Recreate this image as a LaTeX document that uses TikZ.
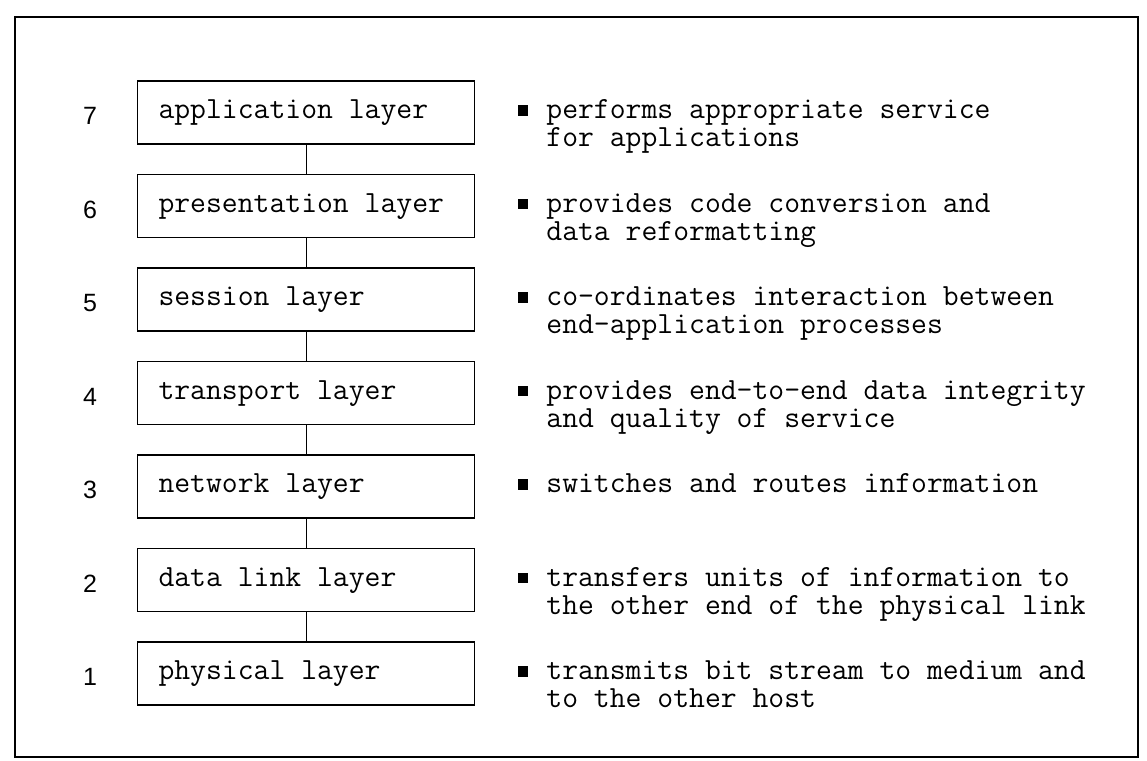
\documentclass[tikz,border=0pt]{standalone}
\usepackage{fontspec}
\newfontfamily\numfont{Liberation Sans}
\usetikzlibrary{positioning}

\newcommand{\typed}{\ttfamily\fontsize{15.4}{14}\selectfont}

\begin{document}
\begin{tikzpicture}[x=0.5pt,y=-0.5pt]
		\tikzset{layer/.style = {draw, line width=0.8pt, minimum width=168.5pt, minimum height=31.5pt,
				text width=147.5pt, align=flush left, inner xsep=10.5pt, text depth=3pt, font=\typed}}
		\tikzset{num/.style = {font=\numfont\fontsize{12.5}{13}\selectfont}}
		\tikzset{dot/.style = {fill=black, inner sep=0pt, minimum width=4.8pt, minimum height=5.2pt}}
		\tikzset{desc/.style = {anchor=base west, inner sep=0pt, font=\typed}}
		\tikzset{link/.style = {line width=0.5pt}}

		\useasboundingbox (0,0) rectangle (1147,761);
		\draw[line width=1pt] (15,17) rectangle (1138,757);

		% the seven layers, top to bottom
		\node[layer] (L7) at (306,112.5) {application layer};
		\node[layer] (L6) at (306,206) {presentation layer};
		\node[layer] (L5) at (306,299.5) {session layer};
		\node[layer] (L4) at (306,393) {transport layer};
		\node[layer] (L3) at (306,486.5) {network layer};
		\node[layer] (L2) at (306,580) {data link layer};
		\node[layer] (L1) at (306,673.5) {physical layer};

		\node[num] (N7) at (90,116) {7};
		\node[num] (N6) at (90,209.5) {6};
		\node[num] (N5) at (90,303) {5};
		\node[num] (N4) at (90,396.5) {4};
		\node[num] (N3) at (90,490) {3};
		\node[num] (N2) at (90,583.5) {2};
		\node[num] (N1) at (90,677) {1};

		\draw[link] (L7) -- (L6);
		\draw[link] (L6) -- (L5);
		\draw[link] (L5) -- (L4);
		\draw[link] (L4) -- (L3);
		\draw[link] (L3) -- (L2);
		\draw[link] (L2) -- (L1);

		% what each layer does
		\node[dot] (B7) at (523,110.5) {};
		\node[dot] (B6) at (523,204) {};
		\node[dot] (B5) at (523,297.5) {};
		\node[dot] (B4) at (523,391) {};
		\node[dot] (B3) at (523,484.5) {};
		\node[dot] (B2) at (523,578) {};
		\node[dot] (B1) at (523,671.5) {};

		\node[desc] (D7) at (546,118.5) {\begin{tabular}[t]{@{}l@{}}performs appropriate service\\for applications\end{tabular}};
		\node[desc] (D6) at (546,212) {\begin{tabular}[t]{@{}l@{}}provides code conversion and\\data reformatting\end{tabular}};
		\node[desc] (D5) at (546,305.5) {\begin{tabular}[t]{@{}l@{}}co-ordinates interaction between\\end-application processes\end{tabular}};
		\node[desc] (D4) at (546,399) {\begin{tabular}[t]{@{}l@{}}provides end-to-end data integrity\\and quality of service\end{tabular}};
		\node[desc] (D3) at (546,492.5) {switches and routes information};
		\node[desc] (D2) at (546,586) {\begin{tabular}[t]{@{}l@{}}transfers units of information to\\the other end of the physical link\end{tabular}};
		\node[desc] (D1) at (546,679.5) {\begin{tabular}[t]{@{}l@{}}transmits bit stream to medium and\\to the other host\end{tabular}};

	\end{tikzpicture}
\end{document}
